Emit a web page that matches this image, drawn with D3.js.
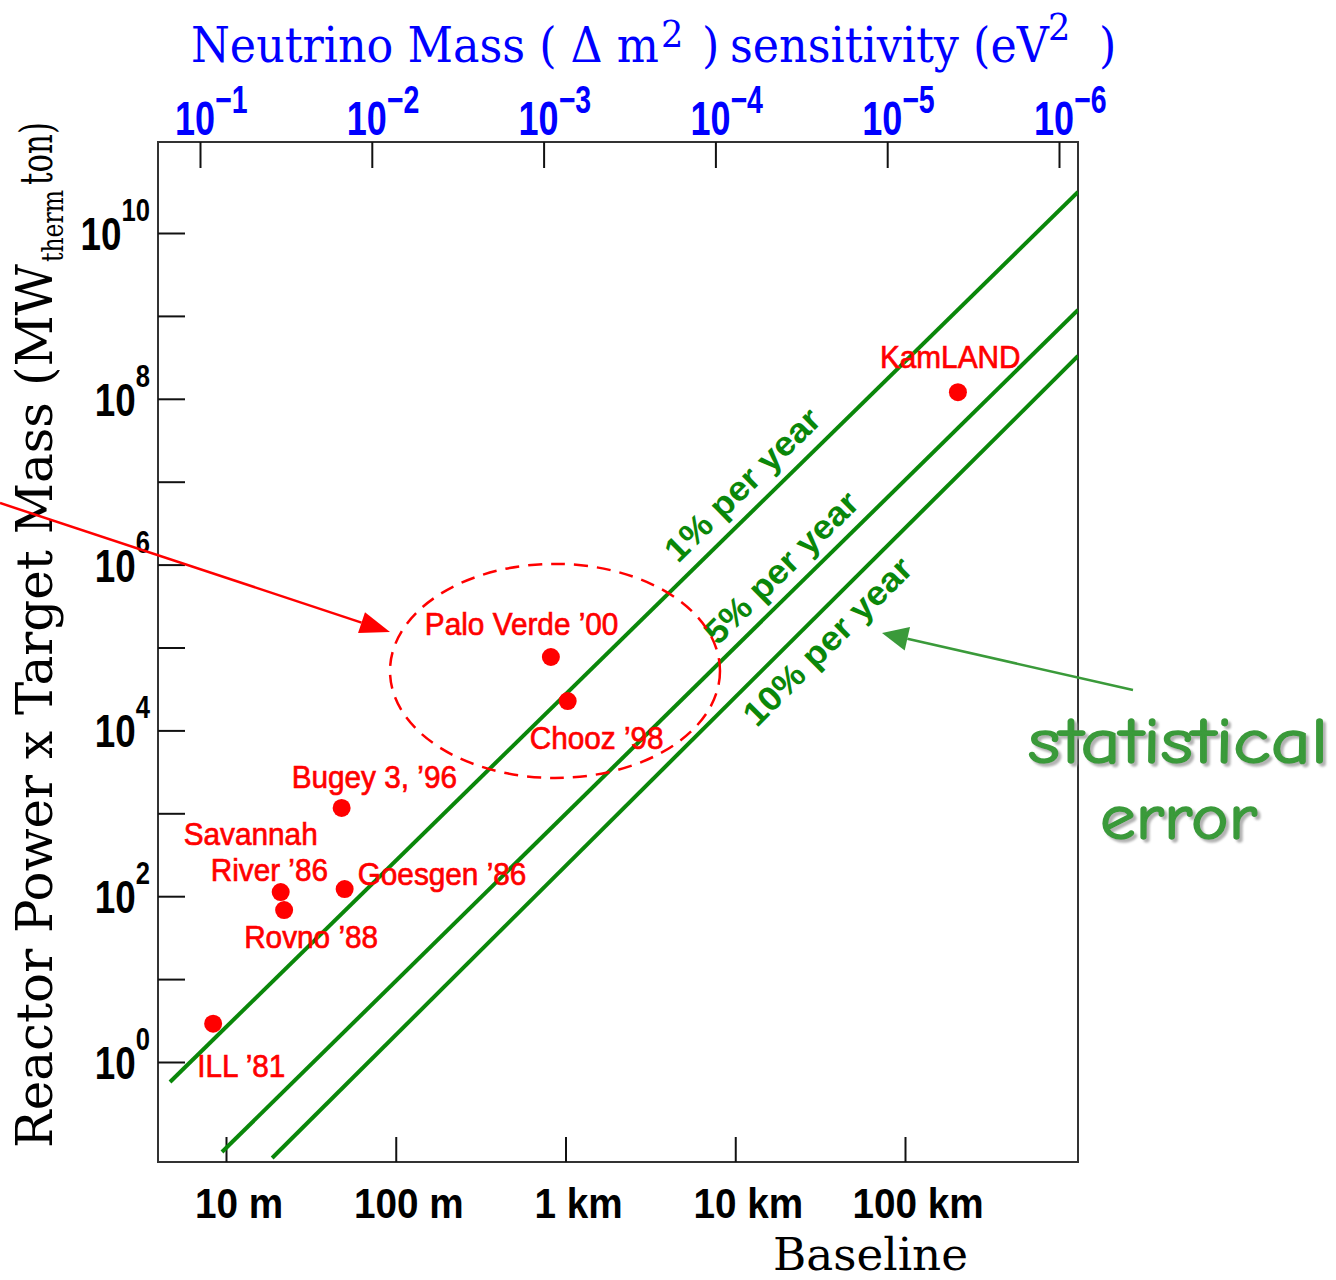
<!DOCTYPE html>
<html><head><meta charset="utf-8">
<script src="https://cdn.jsdelivr.net/npm/d3@7"></script>
<style>html,body{margin:0;background:#fff;}</style>
</head><body>
<svg id="c" width="1336" height="1280"></svg>
<script>
// ---------------- data ----------------
const experiments   = ["ILL ’81", "Savannah River ’86", "Rovno ’88", "Bugey 3, ’96", "Goesgen ’86", "Palo Verde ’00", "Chooz ’98", "KamLAND"];
const baselineM     = [8.4, 21, 22, 48, 50, 820, 1030, 205000];          // metres
const powerMass     = [2.9, 112, 68, 1160, 122, 76800, 22600, 1.2e8];    // MW_therm * ton
const labelLines    = [["ILL ’81"], ["Savannah", "River ’86"], ["Rovno ’88"], ["Bugey 3, ’96"], ["Goesgen ’86"], ["Palo Verde ’00"], ["Chooz ’98"], ["KamLAND"]];

const baselineTicks      = [10, 100, 1000, 10000, 100000];
const baselineTickLabels = ["10 m", "100 m", "1 km", "10 km", "100 km"];
const powerTicks         = [1e0, 1e1, 1e2, 1e3, 1e4, 1e5, 1e6, 1e7, 1e8, 1e9, 1e10];
const powerLabelTicks    = [1e0, 1e2, 1e4, 1e6, 1e8, 1e10];
const powerLabelExps     = ["0", "2", "4", "6", "8", "10"];
const dm2Ticks           = [1e-1, 1e-2, 1e-3, 1e-4, 1e-5, 1e-6];
const dm2Exps            = ["−1", "−2", "−3", "−4", "−5", "−6"];

const errLines          = ["1% per year", "5% per year", "10% per year"];
const errStartBaseline  = [4.68, 9.47, 18.7];
const errStartPower     = [0.574, 0.082, 0.0695];
const errEndBaseline    = [1.045e6, 1.045e6, 1.045e6];
const errEndPower       = [3.12e10, 1.18e9, 3.28e8];
const errLabelBaseline  = [11100, 18800, 35200];
const errLabelPower     = [9.1e6, 9.1e5, 1.17e5];

// highlighted region (dashed ellipse) bounds in data units
const regionBaseline = [92.5, 8130];
const regionPower    = [2670, 1.02e6];

// ---------------- layout ----------------
const svg = d3.select("#c");
const frame = {left: 158, top: 142, right: 1078, bottom: 1162};
const x    = d3.scaleLog().domain([10, 1e5]).range([226, 905]);
const y    = d3.scaleLog().domain([1, 1e10]).range([1062, 233]);
const xTop = d3.scaleLog().domain([1e-1, 1e-6]).range([200, 1059]);

const SANS  = "'Liberation Sans', Arial, Helvetica, sans-serif";
const SERIF = "'DejaVu Serif', 'Liberation Serif', serif";
const GREEN = "#0a870a";
const RED   = "#ff0000";
const BLUE  = "#0000ff";

const defs = svg.append("defs");
const shadow = defs.append("filter").attr("id", "shadow").attr("x", "-10%").attr("y", "-20%").attr("width", "130%").attr("height", "150%");
shadow.append("feDropShadow").attr("dx", 3).attr("dy", 3).attr("stdDeviation", 0.8)
  .attr("flood-color", "#aaaaaa").attr("flood-opacity", 0.9);

// frame
svg.append("rect")
  .attr("x", frame.left).attr("y", frame.top)
  .attr("width", frame.right - frame.left).attr("height", frame.bottom - frame.top)
  .attr("fill", "none").attr("stroke", "#333").attr("stroke-width", 2);

// axes (ticks only, pointing inward)
function styleAxis(g) {
  g.select(".domain").remove();
  g.selectAll(".tick line").attr("stroke", "#111").attr("stroke-width", 2);
  g.selectAll(".tick text").remove();
}
svg.append("g").attr("transform", `translate(0,${frame.bottom})`)
  .call(d3.axisBottom(x).tickValues(baselineTicks).tickSize(-25)).call(styleAxis);
svg.append("g").attr("transform", `translate(${frame.left},0)`)
  .call(d3.axisLeft(y).tickValues(powerTicks).tickSize(-27)).call(styleAxis);
svg.append("g").attr("transform", `translate(0,${frame.top})`)
  .call(d3.axisTop(xTop).tickValues(dm2Ticks).tickSize(-26)).call(styleAxis);

// power-of-ten label helper
function powLabel(tx, ty, sx, anchor, size, expSize, expDy, exp, fill) {
  const t = svg.append("text")
    .attr("transform", `translate(${tx},${ty}) scale(${sx},1)`)
    .attr("text-anchor", anchor).attr("font-family", SANS).attr("font-weight", "bold")
    .attr("font-size", size).attr("fill", fill);
  t.append("tspan").text("10");
  t.append("tspan").attr("font-size", expSize).attr("dy", expDy).text(exp);
}
powerLabelTicks.forEach((v, i) => powLabel(150, y(v) + 17, 0.8, "end", 46, 32, -29, powerLabelExps[i], "#000"));
dm2Ticks.forEach((v, i) => powLabel(xTop(v) - 25, 135, 0.75, "start", 48, 38, -22, dm2Exps[i], BLUE));

// bottom labels
baselineTicks.forEach((v, i) => {
  svg.append("text")
    .attr("transform", `translate(${x(v) + 13},1218) scale(0.9,1)`)
    .attr("text-anchor", "middle").attr("font-family", SANS).attr("font-weight", "bold")
    .attr("font-size", 43).attr("fill", "#000").text(baselineTickLabels[i]);
});

// top title: one text element, pieces placed by tspans, squeezed horizontally
const title = svg.append("text").attr("font-family", SERIF).attr("font-size", 48).attr("fill", BLUE);
const tPieces = [
  {t: "Neutrino Mass ( Δ m", x: 191, y: 62, fs: 48},
  {t: "2", x: 661, y: 47, fs: 38},
  {t: ")", x: 702, y: 62, fs: 48},
  {t: "sensitivity (eV", x: 730, y: 62, fs: 48},
  {t: "2", x: 1048, y: 40, fs: 38},
  {t: ")", x: 1099, y: 62, fs: 48}
];
const spans = tPieces.map(p => title.append("tspan").attr("x", p.x).attr("y", p.y).attr("font-size", p.fs).text(p.t));
const natural = spans[0].node().getComputedTextLength();
const sxTitle = 468 / natural;
title.attr("transform", `scale(${sxTitle},1)`);
spans.forEach((s, i) => s.attr("x", tPieces[i].x / sxTitle));

function serifText(txt, tx, ty, size, len, fill) {
  const t = svg.append("text").attr("x", tx).attr("y", ty)
    .attr("font-family", SERIF).attr("font-size", size).attr("fill", fill).text(txt);
  if (len) t.attr("textLength", len).attr("lengthAdjust", "spacingAndGlyphs");
  return t;
}

// y title (rotated)
const yt = svg.append("g").attr("transform", "translate(52,1148) rotate(-90)");
yt.append("text").attr("x", 0).attr("y", 0).attr("font-family", SERIF).attr("font-size", 50).attr("fill", "#000")
  .attr("textLength", 884).attr("lengthAdjust", "spacingAndGlyphs").text("Reactor Power x Target Mass (MW");
yt.append("text").attr("x", 886).attr("y", 11).attr("font-family", SERIF).attr("font-size", 30).attr("fill", "#000")
  .attr("textLength", 72).attr("lengthAdjust", "spacingAndGlyphs").text("therm");
yt.append("text").attr("x", 963).attr("y", 0).attr("font-family", SERIF).attr("font-size", 44).attr("fill", "#000")
  .attr("textLength", 63).attr("lengthAdjust", "spacingAndGlyphs").text("ton)");

// x title
serifText("Baseline", 773, 1270, 44, 195, "#000");

// clip
defs.append("clipPath").attr("id", "clip").append("rect")
  .attr("x", frame.left).attr("y", frame.top)
  .attr("width", frame.right - frame.left).attr("height", frame.bottom - frame.top);

// statistical error lines
const lineGen = d3.line().x(d => x(d[0])).y(d => y(d[1]));
const plot = svg.append("g").attr("clip-path", "url(#clip)");
const labelLens = [203, 201, 223];
errLines.forEach((name, i) => {
  const pts = [[errStartBaseline[i], errStartPower[i]], [errEndBaseline[i], errEndPower[i]]];
  plot.append("path").attr("d", lineGen(pts)).attr("fill", "none")
    .attr("stroke", GREEN).attr("stroke-width", 4);
  const ang = Math.atan2(y(pts[1][1]) - y(pts[0][1]), x(pts[1][0]) - x(pts[0][0])) * 180 / Math.PI;
  const lx = x(errLabelBaseline[i]), ly = y(errLabelPower[i]);
  svg.append("text")
    .attr("transform", `translate(${lx},${ly}) rotate(${ang})`)
    .attr("text-anchor", "middle").attr("dy", "0.32em")
    .attr("font-family", SANS).attr("font-weight", "bold").attr("font-size", 34)
    .attr("fill", GREEN).attr("textLength", labelLens[i]).attr("lengthAdjust", "spacingAndGlyphs")
    .text(name);
});

// dashed ellipse
const ex0 = x(regionBaseline[0]), ex1 = x(regionBaseline[1]);
const ey0 = y(regionPower[1]), ey1 = y(regionPower[0]);
svg.append("ellipse")
  .attr("cx", (ex0 + ex1) / 2).attr("cy", (ey0 + ey1) / 2)
  .attr("rx", (ex1 - ex0) / 2).attr("ry", (ey1 - ey0) / 2)
  .attr("fill", "none").attr("stroke", RED).attr("stroke-width", 2.5)
  .attr("stroke-dasharray", "14 9");

// experiments
svg.selectAll("circle.exp").data(experiments).enter().append("circle")
  .attr("class", "exp")
  .attr("cx", (d, i) => x(baselineM[i])).attr("cy", (d, i) => y(powerMass[i]))
  .attr("r", 9).attr("fill", RED);

// label offsets relative to the point (annotation layout)
const labelDx = [-16, -97, -40, -50, 13, -126, -38, -78];
const labelDy = [53, -47, 38, -20, -4, -22, 48, -24];
experiments.forEach((name, i) => {
  const px = x(baselineM[i]), py = y(powerMass[i]);
  const t = svg.append("text")
    .attr("transform", `translate(${px + labelDx[i]},${py + labelDy[i]}) scale(0.93,1)`)
    .attr("font-family", SANS).attr("font-size", 32).attr("fill", RED)
    .attr("stroke", RED).attr("stroke-width", 0.7);
  labelLines[i].forEach((ln, j) => {
    t.append("tspan").attr("x", j === 0 ? 0 : 29).attr("dy", j === 0 ? 0 : 36).text(ln);
  });
});

// arrows (slide annotations)
function arrow(x1, y1, x2, y2, color, w, headLen, headW) {
  const a = Math.atan2(y2 - y1, x2 - x1);
  const bx = x2 - headLen * Math.cos(a), by = y2 - headLen * Math.sin(a);
  svg.append("line").attr("x1", x1).attr("y1", y1).attr("x2", bx).attr("y2", by)
    .attr("stroke", color).attr("stroke-width", w);
  const nx = -Math.sin(a), ny = Math.cos(a);
  svg.append("path")
    .attr("d", `M${x2},${y2}L${bx + nx * headW},${by + ny * headW}L${bx - nx * headW},${by - ny * headW}Z`)
    .attr("fill", color);
}
arrow(0, 503, ex0, 632, RED, 2.5, 30, 11);
arrow(1133, 690, 882, 633, "#3a9a3a", 2.5, 26, 12);

// statistical error text with shadow
const statFont = "'Comic Sans MS', 'Comic Neue', Lato, 'Open Sans', sans-serif";
[["statistical", 1028, 763, 300], ["error", 1100, 839, 157]].forEach(([txt, tx, ty, len]) => {
  svg.append("text").attr("x", tx).attr("y", ty).attr("font-family", statFont)
    .attr("font-size", 64).attr("fill", "#3a9a3a").attr("stroke", "#3a9a3a").attr("stroke-width", 1.6)
    .attr("filter", "url(#shadow)")
    .attr("textLength", len).attr("lengthAdjust", "spacingAndGlyphs").text(txt);
});
</script>
</body></html>
